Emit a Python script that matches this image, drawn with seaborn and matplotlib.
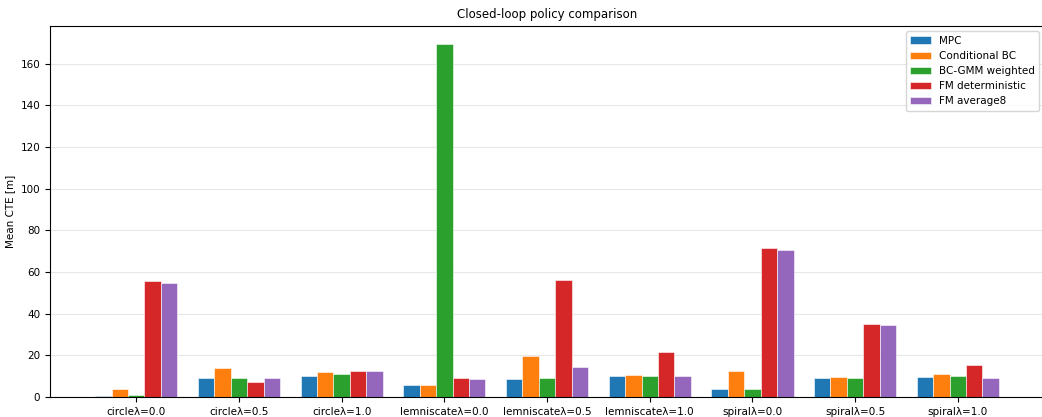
import matplotlib
matplotlib.use("Agg")
import matplotlib.pyplot as plt
import pandas as pd
import seaborn as sns

scenarios = ["circleλ=0.0", "circleλ=0.5", "circleλ=1.0",
             "lemniscateλ=0.0", "lemniscateλ=0.5", "lemniscateλ=1.0",
             "spiralλ=0.0", "spiralλ=0.5", "spiralλ=1.0"]
policies = ["MPC", "Conditional BC", "BC-GMM weighted", "FM deterministic", "FM average8"]

mpc = [0.3, 9.0, 10.3, 5.9, 8.7, 10.3, 4.0, 9.0, 9.6]
cond_bc = [3.7, 13.7, 11.8, 5.9, 19.6, 10.7, 12.3, 9.6, 10.9]
bc_gmm = [0.8, 8.9, 10.8, 169.5, 9.3, 10.3, 4.0, 9.0, 10.3]
fm_det = [55.7, 7.4, 12.6, 9.1, 56.3, 21.5, 71.7, 35.2, 15.4]
fm_avg8 = [54.7, 8.9, 12.4, 8.8, 14.4, 9.9, 70.8, 34.4, 9.3]

series = [mpc, cond_bc, bc_gmm, fm_det, fm_avg8]
rows = []
for name, vals in zip(policies, series):
    for sc, v in zip(scenarios, vals):
        rows.append({"scenario": sc, "policy": name, "cte": v})
df = pd.DataFrame(rows)

palette = ["#1f77b4", "#ff7f0e", "#2ca02c", "#d62728", "#9467bd"]

fig, ax = plt.subplots(figsize=(10.42, 4.17), dpi=100)
fig.subplots_adjust(left=0.048, right=1.002, top=0.937, bottom=0.048)

sns.barplot(data=df, x="scenario", y="cte", hue="policy", order=scenarios,
            hue_order=policies, palette=palette, saturation=1, width=0.8,
            edgecolor="white", linewidth=0.4, errorbar=None, ax=ax)

n = len(scenarios)
pad = 0.05 * (n - 1 + 0.8)
ax.set_xlim(-0.4 - pad, n - 1 + 0.4 + pad)
ax.set_ylim(0, 178)
ax.set_yticks(range(0, 161, 20))

ax.set_xlabel("")
ax.set_ylabel("Mean CTE [m]", fontsize=7.5)
ax.set_title("Closed-loop policy comparison", fontsize=8.5)
ax.tick_params(labelsize=7.5)
ax.grid(axis="y", alpha=0.3)
ax.set_axisbelow(True)
ax.legend(loc="upper right", fontsize=7.5, title=None)

fig.savefig("out.png", dpi=100)
